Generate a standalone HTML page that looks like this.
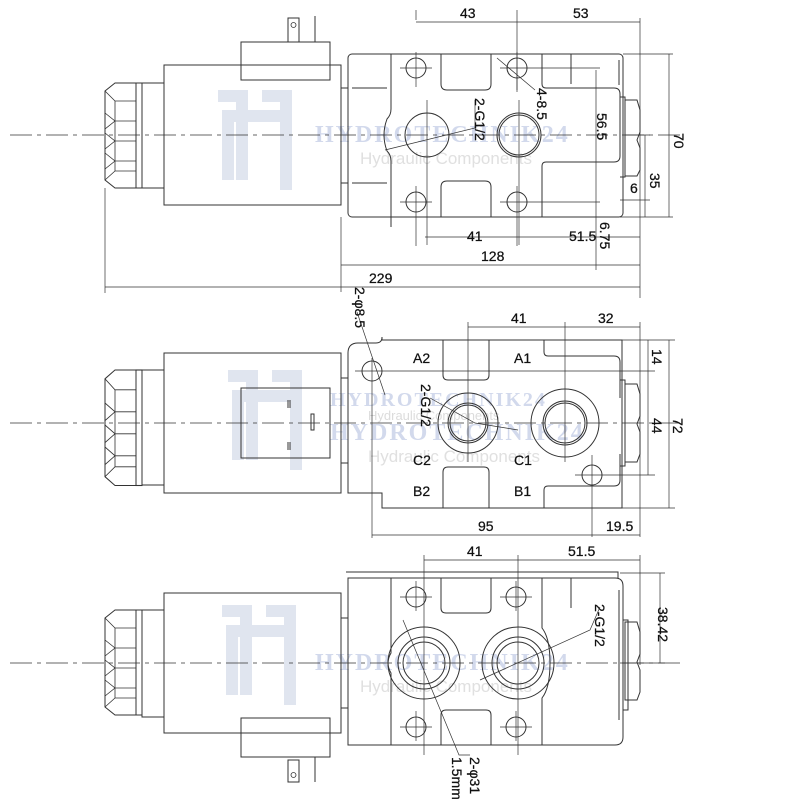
<!DOCTYPE html>
<html><head><meta charset="utf-8"><style>
html,body{margin:0;padding:0;background:#fff;}
svg{display:block;}
text{font-family:"Liberation Sans",sans-serif;fill:#111;font-size:14px;stroke:#111;stroke-width:0.25px;}
</style></head><body>
<svg width="800" height="805" viewBox="0 0 800 805" xmlns="http://www.w3.org/2000/svg">
<defs>
<g id="knob">
  <path d="M115,0 L105,8 L105,97 L115,105 L136,105 L136,0 Z" fill="none" stroke="#333"/>
  <rect x="136" y="0" width="6" height="105" fill="none" stroke="#333"/>
  <path d="M105,8 L115,18 L136,18 M105,30 L115,38 L105,46 M115,38 L136,38 M105,50 L115,58 L105,66 M115,58 L136,58 M105,70 L115,78 L105,86 M115,78 L136,78 M115,18 L115,88 M105,97 L115,88 L136,88" fill="none" stroke="#333" stroke-width="0.8"/>
</g>
</defs>
<g fill="none" stroke="#333" stroke-width="1">
<!-- watermarks -->
<g stroke="none" fill="#d5dcea" opacity="0.75">
 <path d="M218,90 h30 v90 h-12 v-78 h-18z M222,110 h60 v12 h-48 v58 h-12z M262,90 h30 v100 h-12 v-88 h-18z"/>
 <path d="M228,370 h30 v90 h-12 v-78 h-18z M232,390 h60 v12 h-48 v58 h-12z M272,370 h30 v100 h-12 v-88 h-18z"/>
 <path d="M222,605 h30 v90 h-12 v-78 h-18z M226,625 h60 v12 h-48 v58 h-12z M266,605 h30 v100 h-12 v-88 h-18z"/>
</g>
<g stroke="none">
 <text x="315" y="142" style="font-family:'Liberation Serif',serif;font-size:24px;font-weight:bold;fill:#d2d9ec;stroke:none;letter-spacing:2px">HYDROTECHNIK24</text>
 <text x="360" y="164" style="font-size:17px;fill:#e0e0e0;stroke:none">Hydraulic Components</text>
 <text x="330" y="406" style="font-family:'Liberation Serif',serif;font-size:20px;font-weight:bold;fill:#d2d9ec;stroke:none;letter-spacing:2px">HYDROTECHNIK24</text>
 <text x="368" y="420" style="font-size:13px;fill:#dcdcdc;stroke:none">Hydraulic Components</text>
 <text x="330" y="440" style="font-family:'Liberation Serif',serif;font-size:24px;font-weight:bold;fill:#d2d9ec;stroke:none;letter-spacing:2px">HYDROTECHNIK24</text>
 <text x="368" y="462" style="font-size:17px;fill:#e0e0e0;stroke:none">Hydraulic Components</text>
 <text x="315" y="670" style="font-family:'Liberation Serif',serif;font-size:24px;font-weight:bold;fill:#d2d9ec;stroke:none;letter-spacing:2px">HYDROTECHNIK24</text>
 <text x="360" y="692" style="font-size:17px;fill:#e0e0e0;stroke:none">Hydraulic Components</text>
</g>

<!-- ===== VIEW 1 ===== -->
<use href="#knob" transform="translate(0,83)"/>
<rect x="142" y="83" width="22" height="105"/>
<rect x="164" y="65" width="177" height="140"/>
<rect x="241" y="42" width="89" height="38"/>
<rect x="288" y="18" width="11" height="24"/>
<circle cx="293.5" cy="25" r="2.5" stroke-width="0.8"/>
<line x1="315" y1="16" x2="315" y2="42"/>
<rect x="341" y="88" width="7" height="95"/>
<rect x="348" y="54" width="275" height="163" rx="4"/>
<path d="M352,88 h35 M352,183 h35" />
<path d="M391,54 v55 q0,6 -4,10 q-6,16 0,32 q4,4 4,10 v66"/>
<path d="M441,54 v30 q0,6 6,6 h38 q6,0 6,-6 v-30"/>
<path d="M441,217 v-30 q0,-6 6,-6 h38 q6,0 6,6 v30"/>
<path d="M542,54 v30 q0,4 4,4 h68 q6,0 6,6 v62 q0,6 -6,6 h-68 q-4,0 -4,4 v51"/>
<path d="M571,54 v30 M619,60 v25"/>
<path d="M620,97 h5 v80 h-5"/>
<path d="M625,100 h12 l3,10 v22 l-3,8 l3,8 v22 l-3,6 h-12z"/>
<circle cx="416" cy="68" r="10"/><circle cx="517" cy="68" r="10"/>
<circle cx="416" cy="202" r="10"/><circle cx="517" cy="202" r="10"/>
<circle cx="427" cy="135" r="22"/><circle cx="519" cy="135" r="22"/><circle cx="519" cy="135" r="20"/>
<g stroke-width="0.7">
<path d="M400,68 h32 M416,52 v35 M500,68 h100 M517,52 v40 M400,202 h32 M416,186 v60 M500,202 h100 M517,186 v60"/>
<path d="M427,100 v145 M519,100 v145 M416,10 v10 M517,10 v80 M640,18 v280 M341,217 v75 M105,188 v105"/>
<path d="M385,150 L475,128 L475,100 M497,58 L535,90"/>
<path d="M416,22 H640 M425,237 H640 M341,265 H640 M105,287 H640"/>
<path d="M596,70 v200 M645,135 v82 M669,54 v163 M623,54 h50 M620,217 h53 M625,135 h25 M620,200 h30"/>
</g>
<line x1="10" y1="135" x2="680" y2="135" stroke-dasharray="22,5,4,5" stroke-width="0.8"/>

<!-- ===== VIEW 2 ===== -->
<use href="#knob" transform="translate(0,370) scale(1,1.1)"/>
<rect x="142" y="370" width="22" height="115"/>
<rect x="164" y="353" width="177" height="140"/>
<rect x="241" y="388" width="89" height="70"/>
<path d="M288,400 v8 M290,400 v8 M288,442 v8 M290,442 v8 M311,414 h3 v16 h-3z" stroke-width="1"/>
<rect x="341" y="378" width="7" height="85"/>
<path d="M382,340 h240 v168 h-240 v-15 h-34 v-140 q0,-10 10,-10 h18 q6,0 6,-6 z"/>
<path d="M443,340 v35 q0,5 5,5 h36 q5,0 5,-5 v-35 M443,508 v-36 q0,-5 5,-5 h36 q5,0 5,5 v36"/>
<path d="M544,340 v12 q0,4 4,4 h66 q6,0 6,6 v36 M544,508 v-18 q0,-4 4,-4 h66 q6,0 6,-6 v-26"/>
<path d="M620,380 h5 v86 h-5"/>
<path d="M625,384 h12 l3,10 v22 l-3,8 l3,8 v22 l-3,8 h-12z"/>
<circle cx="468" cy="423" r="30"/><circle cx="468" cy="423" r="20"/><circle cx="468" cy="423" r="18"/>
<circle cx="565" cy="423" r="34"/><circle cx="565" cy="423" r="22"/><circle cx="565" cy="423" r="20"/>
<circle cx="372" cy="371" r="10"/><circle cx="592" cy="475" r="10"/>
<g stroke-width="0.7">
<path d="M468,322 v140 M565,322 v140 M640,322 v215 M372,358 v180 M592,455 v82 M355,371 h300 M575,475 h80 M620,340 h55 M620,508 h55"/>
<path d="M468,327 H640 M372,535 H640 M648,340 v135 M669,340 v168"/>
<path d="M357,312 L385,395 M430,398 L475,423 L518,430"/>
</g>
<line x1="10" y1="423" x2="680" y2="423" stroke-dasharray="22,5,4,5" stroke-width="0.8"/>

<!-- ===== VIEW 3 ===== -->
<use href="#knob" transform="translate(0,610)"/>
<rect x="142" y="610" width="22" height="107"/>
<rect x="164" y="593" width="177" height="140"/>
<rect x="241" y="718" width="89" height="39"/>
<rect x="288" y="760" width="11" height="22"/>
<circle cx="293.5" cy="775" r="2.5" stroke-width="0.8"/>
<line x1="315" y1="757" x2="315" y2="782"/>
<rect x="341" y="618" width="7" height="90"/>
<path d="M348,578 h267 q8,0 8,8 v151 q0,8 -8,8 h-267z"/>
<path d="M346,572 h272 v6"/>
<path d="M391,578 v75 q-6,10 0,20 v72 M542,578 v50 q8,10 8,35 q0,25 -8,35 v47"/>
<path d="M441,578 v30 q0,5 5,5 h40 q5,0 5,-5 v-30 M441,745 v-30 q0,-5 5,-5 h40 q5,0 5,5 v30"/>
<path d="M571,578 v30 M619,590 v130 M623,620 h5 v90 h-5"/>
<path d="M625,622 h12 l3,10 v22 l-3,8 l3,8 v22 l-3,8 h-12z"/>
<circle cx="424" cy="663" r="36"/><circle cx="424" cy="663" r="26"/><circle cx="424" cy="663" r="21"/>
<circle cx="518" cy="663" r="36"/><circle cx="518" cy="663" r="26"/><circle cx="518" cy="663" r="21"/>
<circle cx="416" cy="597" r="10"/><circle cx="516" cy="597" r="10"/>
<circle cx="416" cy="727" r="10"/><circle cx="516" cy="727" r="10"/>
<g stroke-width="0.7">
<path d="M400,597 h32 M500,597 h32 M400,727 h32 M500,727 h32 M416,581 v30 M516,581 v30 M416,711 v30 M516,711 v30"/>
<path d="M424,555 v200 M518,555 v200 M640,555 v110 M424,560 H640 M620,573 H665 M620,663 H665 M660,573 v90"/>
<path d="M403,620 L459,755 L470,755 M600,607 L590,630 L480,680"/>
</g>
<line x1="10" y1="663" x2="680" y2="663" stroke-dasharray="22,5,4,5" stroke-width="0.8"/>
</g>

<!-- text -->
<g>
<text x="460" y="18">43</text><text x="573" y="18">53</text>
<text x="467" y="241">41</text><text x="569" y="241">51.5</text>
<text x="481" y="261">128</text><text x="369" y="283">229</text>
<text x="630" y="193">6</text>
<text transform="translate(674,133) rotate(90)">70</text>
<text transform="translate(650,173) rotate(90)">35</text>
<text transform="translate(597,113) rotate(90)">56.5</text>
<text transform="translate(600,222) rotate(90)">6.75</text>
<text transform="translate(475,98) rotate(90)">2-G1/2</text>
<text transform="translate(537,88) rotate(90)">4-8.5</text>

<text x="511" y="323">41</text><text x="598" y="323">32</text>
<text x="413" y="363">A2</text><text x="514" y="363">A1</text>
<text x="413" y="465">C2</text><text x="514" y="465">C1</text>
<text x="413" y="496">B2</text><text x="514" y="496">B1</text>
<text x="478" y="531">95</text><text x="606" y="531">19.5</text>
<text transform="translate(652,349) rotate(90)">14</text>
<text transform="translate(652,418) rotate(90)">44</text>
<text transform="translate(673,418) rotate(90)">72</text>
<text transform="translate(355,287) rotate(90)">2-φ8.5</text>
<text transform="translate(421,384) rotate(90)">2-G1/2</text>

<text x="467" y="556">41</text><text x="568" y="556">51.5</text>
<text transform="translate(658,607) rotate(90)">38.42</text>
<text transform="translate(595,604) rotate(90)">2-G1/2</text>
<text transform="translate(470,757) rotate(90)">2-φ31</text>
<text transform="translate(452,757) rotate(90)">1.5mm</text>
</g>
</svg>
</body></html>
